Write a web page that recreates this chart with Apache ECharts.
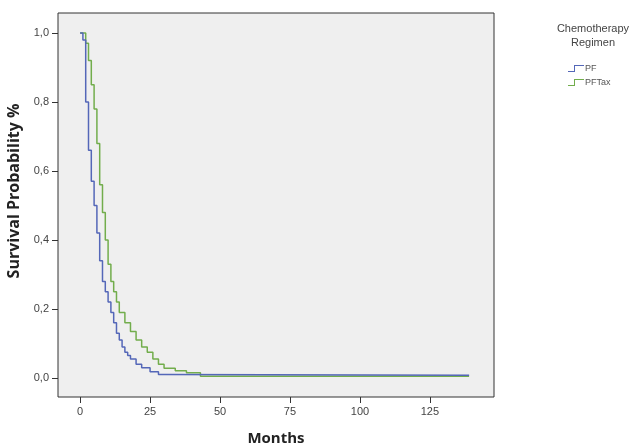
<!DOCTYPE html>
<html>
<head>
<meta charset="utf-8">
<script src="https://cdn.jsdelivr.net/npm/echarts@6/dist/echarts.min.js"></script>
<style>
  html, body { margin: 0; padding: 0; background: #fff; }
  #main { width: 637px; height: 446px; }
</style>
</head>
<body>
<div id="main"></div>
<script>
// PF 组（蓝）
const pfMonths = [0, 1, 2, 3, 4, 5, 6, 7, 8, 9, 10, 11, 12, 13, 14, 15, 16, 17, 18, 20, 22, 25, 28, 30, 139]
const pfSurv = [1.0, 0.98, 0.80, 0.66, 0.57, 0.50, 0.42, 0.34, 0.28, 0.25, 0.22, 0.19, 0.16, 0.13, 0.11, 0.09, 0.075, 0.065, 0.055, 0.04, 0.03, 0.018, 0.01, 0.008, 0.008]
// PFTax 组（绿）
const pftaxMonths = [0, 2, 3, 4, 5, 6, 7, 8, 9, 10, 11, 12, 13, 14, 16, 18, 20, 22, 24, 26, 28, 30, 34, 38, 43, 139]
const pftaxSurv = [1.0, 0.97, 0.92, 0.85, 0.78, 0.68, 0.56, 0.48, 0.40, 0.33, 0.28, 0.25, 0.22, 0.19, 0.16, 0.135, 0.11, 0.09, 0.075, 0.055, 0.04, 0.028, 0.021, 0.015, 0.005, 0.005]

const xTicks = [0, 25, 50, 75, 100, 125]
const yTicks = [0, 0.2, 0.4, 0.6, 0.8, 1.0]
const seriesNames = ['PF', 'PFTax']

const zip = (xs, ys) => xs.map((x, i) => [x, ys[i]])
// 图例里的阶梯小图标
const stepIcon = 'path://M0,6 L6,6 L6,0 L16,0 L16,1 L7,1 L7,7 L0,7 Z'

var myChart = echarts.init(document.getElementById('main'))
myChart.setOption({
  animation: false,
  title: {
    text: 'Chemotherapy\nRegimen',
    left: 588,
    top: 17,
    textAlign: 'center',
    textStyle: { fontFamily: 'Liberation Sans', fontSize: 11, fontWeight: 'normal', color: '#444', lineHeight: 14 }
  },
  legend: {
    data: seriesNames,
    orient: 'vertical',
    left: 563,
    top: 59,
    itemWidth: 16,
    itemHeight: 7,
    itemGap: 5,
    icon: stepIcon,
    textStyle: { fontFamily: 'Liberation Sans', fontSize: 9, color: '#555', padding: [0, 0, 0, -4] }
  },
  grid: {
    left: 58, right: 143, top: 13, bottom: 49,
    outerBoundsMode: 'none',
    show: true,
    backgroundColor: '#efefef',
    borderColor: '#333',
    borderWidth: 1
  },
  xAxis: {
    type: 'value',
    min: -7.9,
    max: 147.9,
    name: 'Months',
    nameLocation: 'middle',
    nameGap: 34,
    nameTextStyle: { fontFamily: 'Open Sans', fontWeight: 'bold', fontSize: 15, color: '#222' },
    axisLine: { show: false, onZero: false },
    splitLine: { show: false },
    axisTick: { show: true, inside: false, length: 6, customValues: xTicks, lineStyle: { color: '#333' } },
    axisLabel: { customValues: xTicks, margin: 9, fontFamily: 'Liberation Sans', fontSize: 11, color: '#444' }
  },
  yAxis: {
    type: 'value',
    min: -0.055,
    max: 1.058,
    name: 'Survival Probability %',
    nameLocation: 'middle',
    nameGap: 32,
    nameTextStyle: { fontFamily: 'Open Sans', fontWeight: 'bold', fontSize: 16, color: '#222', padding: [0, 0, 0, 28] },
    axisLine: { show: false, onZero: false },
    splitLine: { show: false },
    axisTick: { show: true, inside: false, length: 6, customValues: yTicks, lineStyle: { color: '#333' } },
    axisLabel: {
      customValues: yTicks, margin: 9, fontFamily: 'Liberation Sans', fontSize: 11, color: '#444',
      formatter: v => v.toFixed(1).replace('.', ',')
    }
  },
  series: [
    {
      name: 'PFTax',
      type: 'line',
      step: 'end',
      showSymbol: false,
      z: 2,
      color: '#72ad4c',
      lineStyle: { width: 1.5 },
      data: zip(pftaxMonths, pftaxSurv)
    },
    {
      name: 'PF',
      type: 'line',
      step: 'end',
      showSymbol: false,
      z: 3,
      color: '#5467b8',
      lineStyle: { width: 1.5 },
      data: zip(pfMonths, pfSurv)
    }
  ]
})
</script>
</body>
</html>
